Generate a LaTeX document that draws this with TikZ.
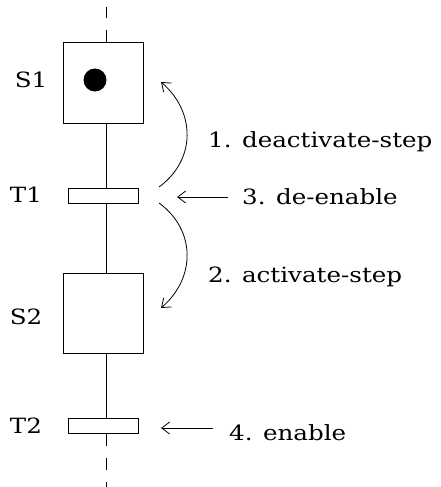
\documentclass[tikz,border=0pt]{standalone}
\usepackage{fontspec}
\setmainfont{DejaVu Serif}[FakeStretch=1.17]
\usetikzlibrary{arrows.meta}
\begin{document}
\begin{tikzpicture}[x=1pt,y=-1pt,
  stepbox/.style={draw,line width=1pt,minimum width=80pt,minimum height=80pt,inner sep=0pt},
  transbox/.style={draw,line width=1pt,minimum width=70pt,minimum height=15pt,inner sep=0pt},
  lbl/.style={font=\fontsize{21}{24}\selectfont,inner sep=0pt},
  txt/.style={font=\fontsize{21}{24}\selectfont,inner sep=0pt,anchor=west},
  link/.style={line width=1pt},
  dashlink/.style={line width=1pt,dash pattern=on 12pt off 12pt},
  arr/.style={line width=0.8pt,-{Straight Barb[length=8pt,width=12pt,line width=0.8pt]}}
]
\useasboundingbox (0,0) rectangle (440,487);
\coordinate (top) at (106,7);
\coordinate (bot) at (106,487);
\node[stepbox] (S1) at (103,83) {};
\node[circle,fill=black,minimum size=23pt,inner sep=0pt] (tok) at (95,80) {};
\node[transbox] (T1) at (103,195.5) {};
\node[stepbox] (S2) at (103,313) {};
\node[transbox] (T2) at (103,426) {};
\node[lbl] (lS1) at (31,80) {S1};
\node[lbl] (lT1) at (26,195) {T1};
\node[lbl] (lS2) at (26,317) {S2};
\node[lbl] (lT2) at (26,426) {T2};
\draw[dashlink] (S1.north -| top) -- (top);
\draw[link] (S1.south -| top) -- (T1.north -| top);
\draw[link] (T1.south -| top) -- (S2.north -| top);
\draw[link] (S2.south -| top) -- (T2.north -| top);
\draw[dashlink] (T2.south -| top) -- (bot);
\node[txt] (a1) at (208,142) {1. deactivate-step};
\node[txt] (a3) at (242,197) {3. de-enable};
\node[txt] (a2) at (208,277) {2. activate-step};
\node[txt] (a4) at (229,433) {4. enable};
\coordinate (c1s) at (159,187);
\coordinate (c1e) at (161,82);
\coordinate (c2s) at (159,203);
\coordinate (c2e) at (161,308);
\draw[arr] (c1s) .. controls (196,160) and (196,112) .. (c1e);
\draw[arr] (c2s) .. controls (196,230) and (196,278) .. (c2e);
\coordinate (e3) at (177,197);
\coordinate (e4) at (161,428);
\draw[arr] (a3.west) ++(-14,0) coordinate (s3) (s3) -- (e3);
\draw[arr] (a4.west) ++(-16,-5) coordinate (s4) (s4) -- (e4);
\end{tikzpicture}
\end{document}
